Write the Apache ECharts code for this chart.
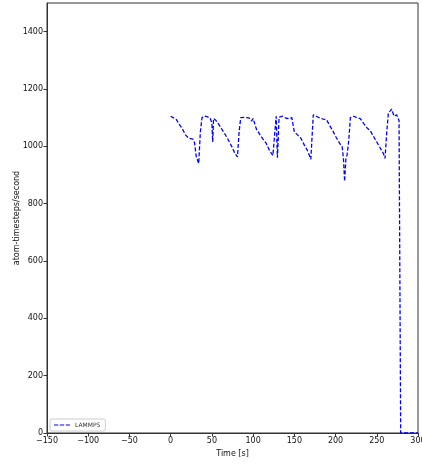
<!DOCTYPE html>
<html><head><meta charset="utf-8">
<script src="https://cdn.jsdelivr.net/npm/echarts@6/dist/echarts.min.js"></script>
<style>html,body{margin:0;padding:0;background:#fff}#c{width:422px;height:465px}</style>
</head><body><div id="c"></div>
<script>
var times = [0,3,7,10,14,18,22,27,29,31,34,36,38,41,44,48,50,51,52,55,58,62,66,70,74,78,81,83,85,90,95,98,100,104,108,112,116,120,124,126,128,129.5,131.5,136,140,144,147,150,154,158,162,166,170,173,177,181,185,189,193,197,201,205,208,209.5,211,212.5,214,216,218,222,226,230,234,238,242,246,250,254,258,260,262,264,268,271,274,277,278.5,279,300];
var values = [1105,1100,1093,1078,1062,1040,1028,1025,1012,965,940,1050,1100,1106,1104,1098,1080,1015,1097,1090,1078,1060,1042,1022,1000,975,963,1050,1100,1101,1099,1088,1097,1060,1042,1025,1010,985,968,965,1105,960,1102,1105,1098,1096,1100,1050,1040,1028,1005,985,955,1110,1104,1099,1095,1093,1072,1052,1030,1010,998,960,878,955,970,1020,1100,1105,1100,1097,1080,1065,1055,1035,1015,995,975,958,1045,1115,1130,1105,1110,1090,1085,0,0];
var seriesName = 'LAMMPS';
var xLabel = 'Time [s]';
var yLabel = 'atom-timesteps/second';

var data = times.map(function(t,i){return [t, values[i]];});
var font = 'DejaVu Sans';
function minus(v){return String(v).replace('-', '\u2212');}
var chart = echarts.init(document.getElementById('c'));
chart.setOption({
  animation:false,
  grid:{left:47,right:4,top:3,bottom:32,containLabel:false,outerBoundsMode:'none',show:true,borderColor:'#333',borderWidth:1,backgroundColor:'transparent'},
  legend:{data:[{name:seriesName,icon:'path://M0,0 L8,0 L8,2 L0,2 Z M11,0 L19,0 L19,2 L11,2 Z M22,0 L30,0 L30,2 L22,2 Z'}],left:50,bottom:34,orient:'vertical',itemWidth:16,itemHeight:2,itemGap:4,
    textStyle:{fontFamily:font,fontSize:6,color:'#333'},backgroundColor:'#fff',borderColor:'#ccc',borderWidth:1,borderRadius:2,padding:[3,5,3,4]},
  xAxis:{type:'value',min:-150,max:300,interval:50,name:xLabel,nameLocation:'middle',nameGap:17,nameMoveOverlap:false,
    nameTextStyle:{fontFamily:font,fontSize:8,color:'#111'},
    axisLine:{show:true,onZero:false,lineStyle:{color:'#333'}},
    axisTick:{show:true,length:3.5,lineStyle:{color:'#333'}},
    axisLabel:{fontFamily:font,fontSize:8,color:'#111',margin:4,formatter:minus},
    splitLine:{show:false}},
  yAxis:{type:'value',min:0,max:1500,interval:200,name:yLabel,nameLocation:'middle',nameGap:26,nameMoveOverlap:false,
    nameTextStyle:{fontFamily:font,fontSize:8,color:'#111'},
    axisLine:{show:true,onZero:false,lineStyle:{color:'#333'}},
    axisTick:{show:true,length:3.5,lineStyle:{color:'#333'}},
    axisLabel:{fontFamily:font,fontSize:8,color:'#111',margin:4,showMaxLabel:false,formatter:function(v){return String(v);}},
    splitLine:{show:false}},
  series:[{name:seriesName,type:'line',data:data,showSymbol:false,symbol:'none',
    lineStyle:{color:'#0000ff',width:1.3,type:[4,2]},itemStyle:{color:'#0000ff'}}]
});
</script></body></html>
